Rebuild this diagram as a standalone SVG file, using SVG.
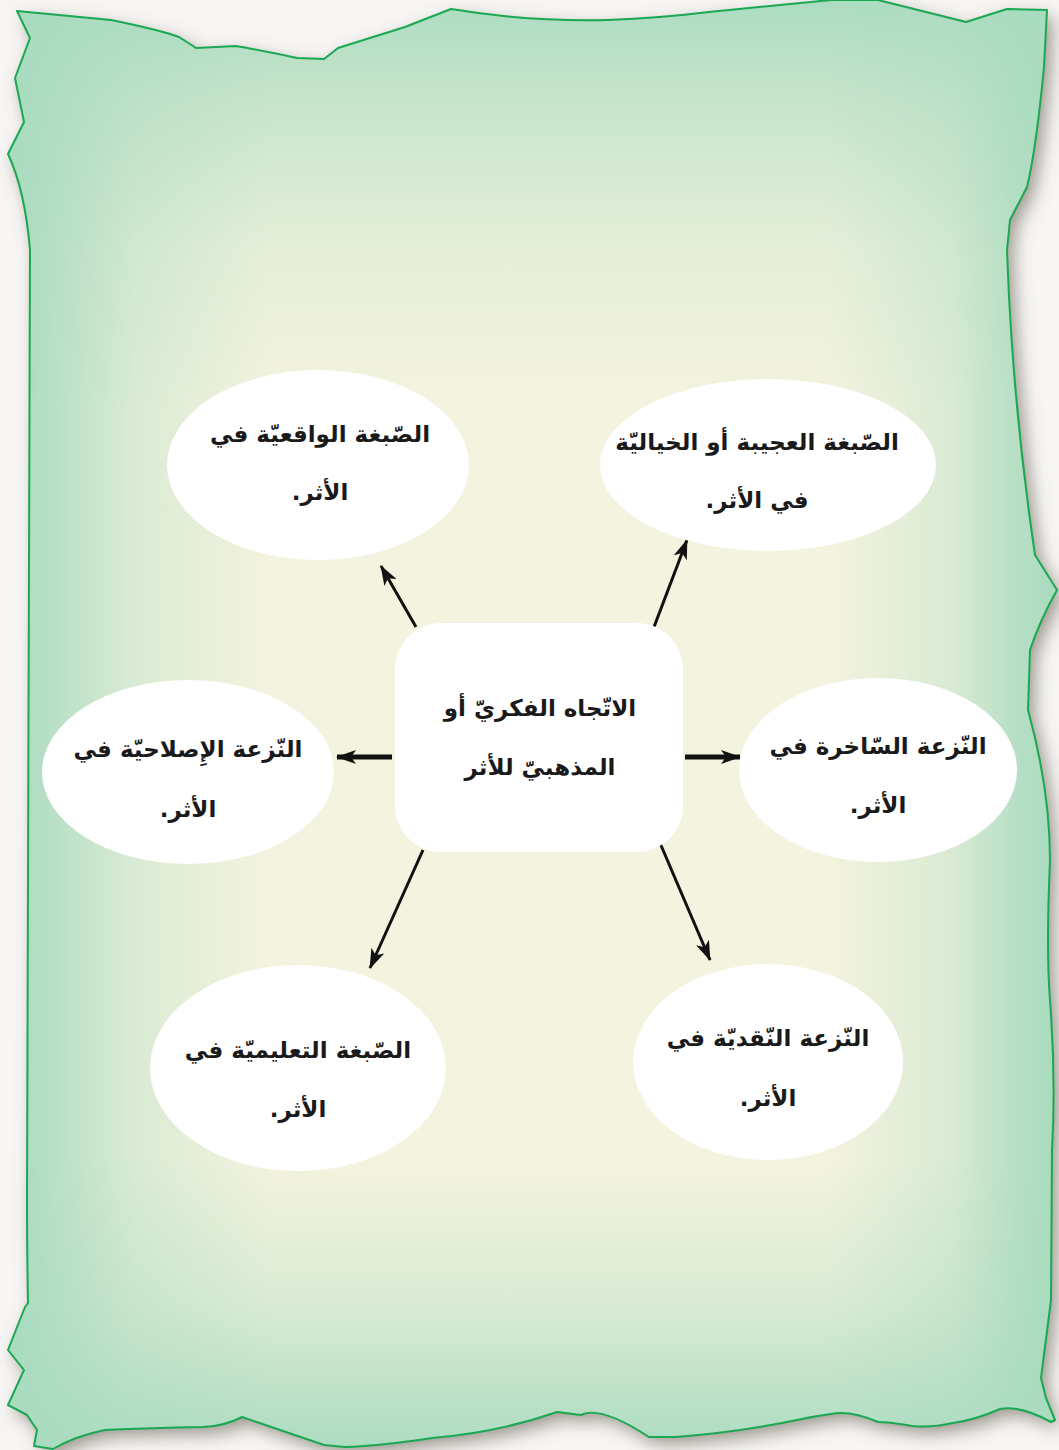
<svg xmlns="http://www.w3.org/2000/svg" width="1059" height="1450" viewBox="0 0 1059 1450">
  <defs>
    <linearGradient id="hGreen" x1="0" y1="0" x2="1" y2="0">
      <stop offset="0" stop-color="#a8dbbf" stop-opacity="1"/>
      <stop offset="0.05" stop-color="#a8dbbf" stop-opacity="0.75"/>
      <stop offset="0.12" stop-color="#a8dbbf" stop-opacity="0.35"/>
      <stop offset="0.25" stop-color="#a8dbbf" stop-opacity="0"/>
      <stop offset="0.78" stop-color="#a8dbbf" stop-opacity="0"/>
      <stop offset="0.9" stop-color="#a8dbbf" stop-opacity="0.35"/>
      <stop offset="0.96" stop-color="#a8dbbf" stop-opacity="0.8"/>
      <stop offset="1" stop-color="#a8dbbf" stop-opacity="1"/>
    </linearGradient>
    <linearGradient id="vGreen" x1="0" y1="0" x2="0" y2="1">
      <stop offset="0" stop-color="#a8dbbf" stop-opacity="0.95"/>
      <stop offset="0.07" stop-color="#a8dbbf" stop-opacity="0.6"/>
      <stop offset="0.17" stop-color="#a8dbbf" stop-opacity="0.2"/>
      <stop offset="0.28" stop-color="#a8dbbf" stop-opacity="0"/>
      <stop offset="0.8" stop-color="#a8dbbf" stop-opacity="0"/>
      <stop offset="0.9" stop-color="#a8dbbf" stop-opacity="0.35"/>
      <stop offset="1" stop-color="#a8dbbf" stop-opacity="0.95"/>
    </linearGradient>
    <filter id="shadow" x="-5%" y="-5%" width="112%" height="112%">
      <feDropShadow dx="6" dy="7" stdDeviation="9" flood-color="#6a6558" flood-opacity="0.65"/>
    </filter>
    <marker id="arrow" viewBox="0 0 20 14" refX="19" refY="7" markerWidth="20" markerHeight="14" markerUnits="userSpaceOnUse" orient="auto">
      <path d="M0,0 L20,7 L0,14 L5,7 Z" fill="#111"/>
    </marker>
    <path id="paperShape"
      d="M17,11 L111,20 Q160,30 179,37 Q190,44 196,48 L236,46 Q270,52 297,58 L324,59 L338,48 L405,27 L451,9
         Q530,22 608,20 Q660,18 709,12 L831,0 L878,0 L966,22 L1007,9 L1047,10
         L1044,67 Q1036,150 1027,187 L1010,220 L1007,250
         Q1012,400 1035,555 L1057,590 Q1040,620 1030,650 L1028,710 Q1050,790 1050,860
         Q1046,950 1050,1000 Q1056,1080 1052,1150 L1051,1300 L1041,1378 L1046,1398 L1055,1420 L1051,1422
         Q1020,1405 1000,1409 Q975,1420 953,1423 Q930,1428 912,1426 Q890,1422 878,1422 Q850,1410 831,1414 Q815,1416 797,1420
         Q740,1432 676,1437 L649,1437 Q600,1405 581,1415 L557,1412 Q500,1432 432,1438 Q380,1446 345,1447 L324,1445 L242,1417
         Q225,1426 203,1427 Q150,1428 105,1430 Q75,1436 53,1449 L34,1446 L37,1430 L27,1415 L8,1405 L24,1370 L8,1350
         L25,1307 L28,1303 Q27,1250 27,1200 Q30,800 30,250 Q25,190 8,154 L24,122 L15,78 L30,38 Z"/>
    <style>
      .bubble { fill: #ffffff; }
      .label { font-family: "DejaVu Sans", sans-serif; font-weight: bold; font-size: 23px; fill: #1a1a1a; text-anchor: middle; direction: rtl; }
      .conn { stroke: #111; stroke-width: 3; fill: none; marker-end: url(#arrow); }
      .conn-thick { stroke: #111; stroke-width: 5; fill: none; marker-end: url(#arrow); }
    </style>
  </defs>

  <rect x="0" y="0" width="1059" height="1450" fill="#f7f6f4"/>

  <g id="paper">
    <use href="#paperShape" fill="#f4f3df" filter="url(#shadow)"/>
    <use href="#paperShape" fill="url(#hGreen)"/>
    <use href="#paperShape" fill="url(#vGreen)"/>
    <use href="#paperShape" fill="none" stroke="#1aa852" stroke-width="2" stroke-linejoin="round"/>
  </g>

  <g id="connectors">
    <line class="conn" x1="416" y1="627" x2="381" y2="566"/>
    <line class="conn" x1="654" y1="627" x2="687" y2="540"/>
    <line class="conn-thick" x1="392" y1="757" x2="337" y2="757"/>
    <line class="conn-thick" x1="685" y1="757" x2="740" y2="757"/>
    <line class="conn" x1="423" y1="850" x2="370" y2="968"/>
    <line class="conn" x1="660" y1="843" x2="710" y2="960"/>
  </g>

  <g id="center">
    <rect class="bubble" x="395" y="623" width="288" height="229" rx="46" ry="46"/>
    <text class="label" x="540" y="716">الاتّجاه الفكريّ أو</text>
    <text class="label" x="540" y="775">المذهبيّ للأثر</text>
  </g>

  <g id="node-top-left">
    <ellipse class="bubble" cx="318" cy="465" rx="151" ry="95"/>
    <text class="label" x="320" y="442">الصّبغة الواقعيّة في</text>
    <text class="label" x="320" y="500">الأثر.</text>
  </g>

  <g id="node-top-right">
    <ellipse class="bubble" cx="768" cy="465" rx="168" ry="86"/>
    <text class="label" x="757" y="450">الصّبغة العجيبة أو الخياليّة</text>
    <text class="label" x="757" y="508">في الأثر.</text>
  </g>

  <g id="node-left">
    <ellipse class="bubble" cx="188" cy="772" rx="146" ry="92"/>
    <text class="label" x="188" y="757">النّزعة الإِصلاحيّة في</text>
    <text class="label" x="188" y="817">الأثر.</text>
  </g>

  <g id="node-right">
    <ellipse class="bubble" cx="878" cy="770" rx="139" ry="92"/>
    <text class="label" x="878" y="754">النّزعة السّاخرة في</text>
    <text class="label" x="878" y="813">الأثر.</text>
  </g>

  <g id="node-bottom-left">
    <ellipse class="bubble" cx="298" cy="1068" rx="148" ry="103"/>
    <text class="label" x="298" y="1058">الصّبغة التعليميّة في</text>
    <text class="label" x="298" y="1117">الأثر.</text>
  </g>

  <g id="node-bottom-right">
    <ellipse class="bubble" cx="768" cy="1062" rx="135" ry="98"/>
    <text class="label" x="768" y="1046">النّزعة النّقديّة في</text>
    <text class="label" x="768" y="1106">الأثر.</text>
  </g>
</svg>
